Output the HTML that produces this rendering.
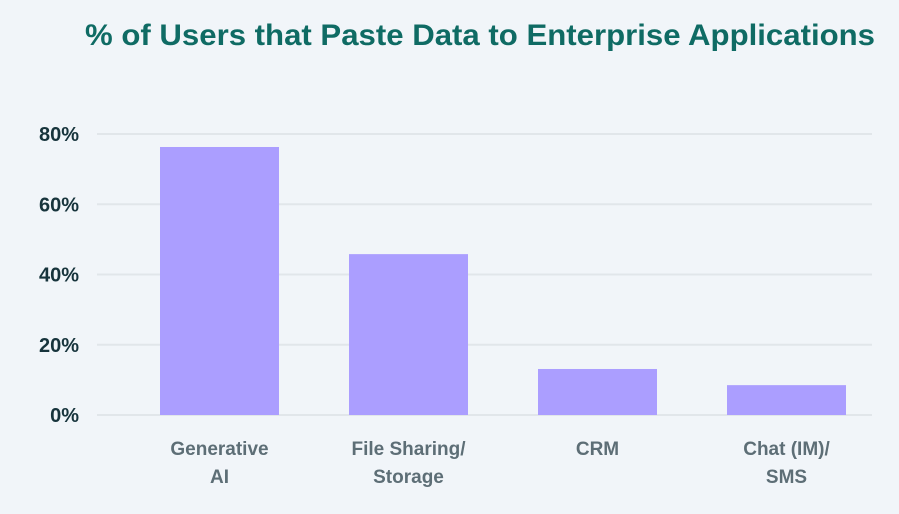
<!DOCTYPE html>
<html><head><meta charset="utf-8"><style>
body{margin:0;background:#f1f5f9;}
svg{display:block;font-family:"Liberation Sans",sans-serif;}
</style></head><body>
<svg id="chart" width="899" height="514" viewBox="0 0 899 514">
<rect width="899" height="514" fill="#f1f5f9"/>
<text x="480" y="45" text-anchor="middle" font-size="30" font-weight="bold" fill="#0f6b64" textLength="790" lengthAdjust="spacingAndGlyphs">% of Users that Paste Data to Enterprise Applications</text>
<g id="grid"></g><g id="bars"></g><g id="xlabels"></g>
</svg>
<script>
const categories=[["Generative","AI"],["File Sharing/","Storage"],["CRM"],["Chat (IM)/","SMS"]];
const values=[76.3,45.8,13.1,8.5];
const ticks=[0,20,40,60,80];
const tickLabels=["0%","20%","40%","60%","80%"];
const ns="http://www.w3.org/2000/svg";
const y0=415,pxPer=(415-134)/80;
const yScale=v=>y0-v*pxPer;
const xStart=160,step=189,bw=119;
const xScale=i=>xStart+i*step;
function mk(t,a,p){const e=document.createElementNS(ns,t);for(const k in a)e.setAttribute(k,a[k]);p.appendChild(e);return e;}
const g=document.getElementById('grid');
ticks.forEach((t,i)=>{
 const l=mk('line',{x1:97,x2:872,y1:yScale(t),y2:yScale(t),stroke:'#e1e6ea','stroke-width':2},g);
 
 
 const tx=mk('text',{x:79,y:yScale(t)+7,'text-anchor':'end','font-size':20,'font-weight':'bold',fill:'#17343c'},g);
 tx.textContent=tickLabels[i];
 
 
});
const b=document.getElementById('bars'),xl=document.getElementById('xlabels');
values.forEach((v,i)=>{
 const r=mk('rect',{x:xScale(i),y:yScale(v),width:bw,height:y0-yScale(v),fill:'#ab9eff'},b);
 
 
 categories[i].forEach((s,j)=>{
  const t=mk('text',{x:xScale(i)+bw/2,y:455+j*28,'text-anchor':'middle','font-size':19,'font-weight':'bold',fill:'#5d6e76'},xl);
  t.textContent=s;
  
  
 });
});
</script>
</body></html>
